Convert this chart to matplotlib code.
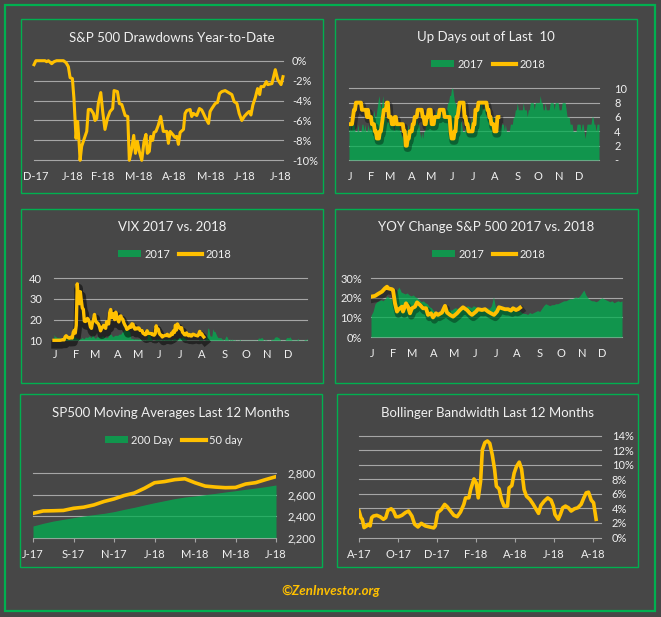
import matplotlib
matplotlib.use('Agg')
import matplotlib.pyplot as plt
import numpy as np
from matplotlib.patches import Rectangle, Patch
from matplotlib.lines import Line2D
import matplotlib.patheffects as pe

# ---------------- DATA ----------------
# Panel 1: S&P 500 drawdown YTD (trading day, %)
dd_day = [0, 1.1, 3.4, 6.3, 7.2, 8.2, 10.1, 11.4, 12.9, 16.8,
          18.3, 19.6, 20.6, 21.9, 22.8, 24.0, 24.9, 25.7, 26.3, 27.2,
          29.1, 30.1, 31.0, 32.4, 33.9, 34.8, 35.8, 36.7, 38.1, 39.2,
          40.5, 41.9, 43.4, 44.9, 45.7, 47.6, 48.7, 50.1, 52.0, 53.5,
          54.4, 55.8, 56.9, 57.9, 59.0, 60.1, 61.5, 62.8, 63.9, 64.7,
          65.8, 66.6, 67.7, 68.5, 69.6, 70.9, 72.3, 73.8, 75.8, 76.7,
          77.7, 79.6, 80.5, 81.5, 82.4, 83.4, 85.3, 86.2, 87.2, 89.1,
          90.0, 91.0, 92.9, 94.4, 95.7, 96.7, 98.0, 99.6, 100.5, 101.5,
          103.4, 104.7, 105.9, 107.2, 109.1, 111.0, 112.9, 114.2, 115.8, 117.1,
          118.6, 120.0, 121.5, 122.8, 123.8, 124.9, 126.3, 127.6, 128.8, 129.5,
          131.1, 132.6, 133.4, 135.8, 137.7, 139.1, 141.0, 142.1]
dd_pct = [-0.4, 0, 0, 0, -0.1, 0, -0.3, -0.1, 0, 0,
          -0.2, -0.6, -1.7, -1.8, -3.8, -7.8, -6.1, -8.1, -10.0, -8.6,
          -7.6, -7.1, -4.9, -4.9, -5.3, -6.0, -5.8, -4.3, -3.2, -5.1,
          -6.9, -5.8, -5.1, -4.8, -3.0, -3.1, -4.3, -4.4, -5.5, -5.6,
          -10.0, -8.8, -7.5, -9.3, -8.1, -9.1, -10.0, -8.1, -7.4, -9.3,
          -9.1, -7.6, -8.0, -7.2, -7.1, -6.5, -5.6, -7.1, -7.1, -8.3,
          -7.1, -7.5, -7.7, -7.6, -8.4, -7.2, -6.9, -5.3, -5.0, -4.9,
          -5.6, -5.3, -5.5, -4.8, -4.95, -5.3, -5.8, -6.3, -5.1, -4.8,
          -4.3, -4.2, -3.3, -3.1, -3.0, -3.2, -3.4, -4.1, -4.3, -5.3,
          -6.0, -5.6, -5.3, -5.1, -5.45, -4.45, -3.7, -2.8, -3.4, -2.6,
          -2.6, -2.1, -2.4, -2.3, -0.9, -1.9, -2.4, -1.6]
dd_ticks = [1, 22, 39, 60, 80, 101, 120, 141]
dd_labels = ['D-17', 'J-18', 'F-18', 'M-18', 'A-18', 'M-18', 'J-18', 'J-18']
dd_yticks = [0, -2, -4, -6, -8, -10]

# Panel 2: Up days out of last 10
up2017 = [5, 5, 4, 5, 5, 5, 4, 4, 4, 5, 4, 4, 4, 5, 5, 4, 5, 4, 4, 5, 4, 5, 5,
          6, 6, 7, 6, 6, 7, 8, 9, 8, 7, 8, 9, 7, 6, 6,
          5, 6, 5, 5, 6, 5, 5, 4, 5, 5, 6, 5, 5, 4,
          4, 3, 4, 4, 3, 4, 4, 5, 4, 4, 5, 4, 4, 5, 5,
          5, 6, 5, 5, 4, 3, 4, 3, 4, 4,
          5, 5, 6, 5, 5, 6, 6, 5, 6, 6, 7, 6, 7, 7, 6, 7, 6,
          6, 7, 6, 7, 7, 8, 8, 9, 9, 10, 10, 9, 8, 8, 7,
          6, 6, 5, 6, 5, 4, 4, 4, 5,
          5, 5, 6, 5, 5, 6, 5, 6, 6, 6, 7, 7, 8, 7, 8, 8, 7, 7, 8, 7,
          6, 6, 7, 6, 6, 5, 6, 6, 5, 5, 4, 4, 4, 5, 4, 5, 5, 5, 4, 5,
          4, 4, 4, 4, 5, 5, 5, 6, 6, 7, 7, 8, 7, 7, 7, 7, 7, 8, 7,
          7, 7, 6, 7, 7, 8, 8, 8, 8, 7, 8, 8, 8, 8, 8, 9, 8, 8,
          7, 7, 8, 7, 7, 7, 7, 8, 8, 8, 8, 7, 8, 8, 8, 8, 7,
          7, 7, 8, 8, 8, 8, 7, 6, 6, 6, 5, 5, 5, 4, 4, 4, 4,
          5, 5, 5, 5, 4, 5, 5, 4, 3, 4, 5, 5, 5, 5, 5, 6, 6, 5, 5, 4, 5, 5, 5]
up2018 = [5, 5, 5, 5, 6, 7, 7, 8, 8, 8, 8, 8, 8,
          7, 7, 7, 7, 7, 6, 7,
          6, 6, 6, 5, 5, 5, 4, 4,
          3, 3, 3, 4, 4, 5, 6, 7, 7, 7,
          8, 8, 6, 6, 6, 5, 5, 5,
          6, 6, 5, 5, 5, 5, 5, 5, 5, 4, 4,
          2, 2, 3, 3, 4, 4, 4, 5, 5,
          6, 6, 6, 7, 7, 7, 7, 7, 6, 6,
          5, 5, 6, 6, 7, 7, 7, 5, 5, 5,
          6, 6, 6, 6, 6, 7, 7, 7, 7, 7,
          6, 6, 6, 6, 6, 6, 4, 3, 3, 3,
          4, 4, 6, 6, 7, 8, 8, 8, 8, 8,
          6, 6, 5, 5, 4, 4, 4, 4, 4, 5, 5,
          7, 7, 7, 8, 8, 8, 8, 8, 8, 8, 8, 8,
          7, 7, 6, 6, 5, 5, 5, 4, 4, 4, 6, 6]
month_ticks = [1, 22, 41, 63, 83, 104, 125, 146, 169, 190, 211, 231]
month_labels = ['J', 'F', 'M', 'A', 'M', 'J', 'J', 'A', 'S', 'O', 'N', 'D']
up_yticks = [0, 2, 4, 6, 8, 10]
up_ylabels = ['-', '2', '4', '6', '8', '10']

# Panel 3: VIX
vix2017 = [12.8, 11.9, 11.7, 11.3, 11.3, 11.5, 11.0, 11.2, 11.1, 11.2, 12.0, 12.3, 11.5, 11.2, 11.3, 10.8, 10.6, 11.1, 11.9, 12.0,
           11.8, 11.4, 11.1, 11.0, 10.9, 10.6, 10.7, 10.9, 11.5, 10.7, 10.9, 11.6, 11.5, 11.4, 11.7, 12.1, 11.5, 11.3, 12.9,
           11.9, 11.2, 11.0, 11.5, 11.9, 11.5, 11.6, 11.4, 11.7, 12.3, 11.6, 11.4, 11.3, 11.3, 11.3, 12.5, 12.8, 13.1, 12.5, 11.7, 12.0, 12.4, 12.4,
           12.4, 12.4, 12.9, 13.0, 12.9, 13.9, 14.1, 15.1, 15.1, 15.9, 14.4, 14.9, 14.6, 14.1, 10.8, 11.0, 10.8, 10.4, 10.8,
           10.6, 10.7, 10.5, 10.7, 10.6, 10.5, 10.6, 10.2, 10.4, 10.2, 10.6, 10.8, 15.6, 14.7, 12.0, 10.9, 10.2, 10.0, 9.8, 10.4, 10.4, 10.8,
           10.4, 10.8, 10.1, 10.3, 10.5, 10.4, 10.2, 10.7, 10.4, 10.4, 10.9, 10.6, 10.4, 10.4, 10.0, 10.9, 11.0, 10.8, 10.0, 11.0, 11.1, 11.2,
           11.2, 11.1, 12.5, 11.1, 11.2, 10.6, 10.3, 9.9, 9.5, 9.9, 9.8, 9.9, 9.5, 9.4, 9.4, 9.4, 9.4, 9.6, 10.3, 10.3,
           10.3, 10.4, 10.2, 10.0, 10.0, 11.1, 11.5, 16.0, 15.5, 12.3, 12.0, 12.1, 15.6, 14.3, 14.3, 13.2, 12.0, 11.3, 11.3, 11.3, 11.3, 10.6, 10.5,
           10.1, 11.0, 12.1, 11.6, 10.5, 10.1, 10.6, 10.2, 10.6, 10.2, 10.2, 10.3, 9.8, 9.7, 9.9, 10.2, 10.5, 9.9, 9.5, 9.5,
           9.5, 9.4, 9.2, 9.6, 9.6, 9.9, 9.9, 9.8, 9.6, 9.9, 9.9, 9.9, 9.9, 10.1, 11.2, 11.0, 11.0, 11.3, 11.2, 10.0, 10.2, 10.3,
           10.2, 10.0, 9.9, 9.8, 10.2, 10.5, 10.5, 10.5, 11.5, 11.6, 11.8, 11.4, 11.3, 10.6, 10.2, 9.7, 9.7, 9.9, 10.0, 10.7, 11.4,
           11.3, 11.2, 11.7, 11.0, 10.2, 10.2, 10.2, 10.2, 10.2, 10.2, 10.9, 10.2, 9.5, 9.5, 9.7, 9.9, 10.2, 10.5, 10.2, 11.0]
vix2018 = [10.0, 10.0, 10.0, 10.0, 10.0, 10.0, 10.0, 10.1, 10.2, 10.3, 10.2, 11.7, 12.2, 11.7, 11.3, 11.0, 11.1, 11.6, 11.1, 13.8, 14.8,
           13.5, 17.3, 37.3, 30.0, 27.7, 33.5, 29.1, 25.6, 25.0, 19.3, 19.1, 19.5, 20.6, 20.0, 18.7, 16.5, 15.8, 18.6, 19.9,
           22.5, 19.6, 18.7, 18.4, 17.8, 16.5, 14.6, 15.8, 16.4, 17.2, 16.6, 15.8, 19.0, 18.2, 17.9, 23.3, 24.9, 21.0, 22.5, 22.9, 20.0,
           23.6, 21.1, 20.1, 18.9, 21.5, 21.8, 20.5, 20.2, 18.5, 17.4, 16.6, 15.3, 15.6, 16.0, 16.9, 16.3, 18.0, 17.8, 16.2, 15.4, 15.9,
           15.5, 16.0, 15.9, 14.8, 14.8, 14.7, 13.4, 13.2, 12.7, 12.9, 14.6, 13.4, 13.4, 13.4, 13.1, 13.2, 12.6, 12.5, 13.2, 17.0, 14.9, 15.4,
           13.5, 12.7, 12.4, 11.6, 12.1, 12.2, 12.4, 12.3, 12.9, 12.1, 12.0, 12.3, 13.4, 12.8, 14.6, 13.8, 17.3, 15.0, 17.9, 16.9, 16.1,
           15.6, 16.1, 13.9, 13.4, 12.7, 12.6, 13.6, 12.6, 12.2, 12.8, 12.1, 12.1, 12.9, 12.9, 12.6, 12.4, 12.3, 12.1, 13.0, 14.3, 12.8,
           13.2, 12.2, 11.6]

# Panel 4: YOY change S&P 500 (%)
yoy2017 = [11.0, 13, 17, 18, 18.5, 19, 18.5, 19.5, 21, 20, 19.5, 20, 20.5, 24, 25.5, 23, 22.5, 22, 22.5, 21.5,
           21, 21.5, 20.5, 20, 19, 18, 18.5, 17.5, 17, 15.5, 15, 13.5, 13, 12.5, 13, 13.5, 14, 13.5, 14, 14.5,
           13.5, 14.5, 15, 14.5, 15, 14.5, 15.5, 15, 16, 15.5, 15, 16, 15.5, 15, 15, 14.5, 15, 14.5, 15, 14.5,
           16, 20.5, 15, 14.5, 14, 14.5, 14, 14, 14.5, 14, 14.5, 14, 13.5, 13, 13.5, 12.5, 12, 12, 11.5, 12.5,
           12, 12.5, 13, 13.5, 13, 14.5, 16, 17, 16.5, 16, 16.5, 16.5, 17, 17, 17.5, 18, 18.5, 18.5, 19, 19.5,
           19.5, 20, 20.5, 20, 21, 22.5, 24, 21.5, 20, 19, 18.5, 18.5, 18, 18.5, 19.5, 20, 19.5, 19, 18.5, 18,
           18.5, 17.5, 18, 18.5, 18, 18.5]
yoy18_day = [0, 4, 7, 11, 14, 16, 17, 21, 22, 24, 26, 27, 31, 32, 35, 37, 39, 41, 44, 46,
             49, 52, 55, 57, 60, 62, 65, 67, 71, 74, 76, 79, 82, 86, 89, 92, 96, 99, 101, 105,
             107, 111, 114, 117, 120, 123, 126, 128, 131, 134, 137, 140, 142, 145, 147, 149]
yoy2018 = [20.6, 21.0, 22.0, 23.2, 24.9, 25.7, 24.9, 24.4, 24.0, 17.2, 13.0, 13.8, 15.5, 13.0, 17.2, 15.5, 12.1, 14.7, 15.5, 17.7,
           16.4, 14.7, 14.7, 11.3, 12.1, 10.0, 12.1, 11.3, 12.5, 15.9, 12.5, 11.3, 10.4, 12.1, 13.8, 15.2, 13.8, 12.1, 11.3, 13.0,
           14.2, 13.8, 14.2, 13.0, 12.1, 11.3, 13.0, 15.2, 14.7, 14.2, 14.2, 13.5, 14.7, 13.8, 14.2, 15.0]
yoy_yticks = [0, 10, 20, 30]

# Panel 5: moving averages (half-month steps, Jul-17 .. Jul-18)
ma200 = [2309, 2334, 2355, 2371, 2387, 2402, 2415, 2427, 2443, 2464, 2483, 2505, 2526,
         2545, 2564, 2579, 2589, 2601, 2613, 2626, 2638, 2651, 2663, 2676, 2691]
ma50 = [2427, 2449, 2451, 2454, 2474, 2484, 2505, 2537, 2561, 2593, 2616, 2660, 2712,
        2723, 2741, 2749, 2712, 2681, 2672, 2666, 2668, 2700, 2713, 2742, 2769]
ma_ticks = [0, 2, 4, 6, 8, 10, 12]
ma_labels = ['J-17', 'S-17', 'N-17', 'J-18', 'M-18', 'M-18', 'J-18']
ma_yticks = [2200, 2400, 2600, 2800]

# Panel 6: Bollinger bandwidth (months since Aug-17, %)
bb_month = [0, 0.10, 0.17, 0.26, 0.39, 0.48, 0.57, 0.65, 0.74, 0.91, 1.08, 1.25, 1.37, 1.48, 1.65, 1.77, 1.89,
            2.03, 2.20, 2.37, 2.54, 2.71, 2.85, 3.02, 3.19, 3.40, 3.61, 3.83, 3.91, 4.03, 4.22, 4.39, 4.52,
            4.69, 4.86, 5.03, 5.20, 5.37, 5.46, 5.63, 5.72, 5.89, 6.01, 6.11, 6.23, 6.32, 6.45, 6.58, 6.70,
            6.83, 6.95, 7.04, 7.18, 7.30, 7.43, 7.61, 7.69, 7.83, 7.95, 8.07, 8.21, 8.33, 8.46, 8.58, 8.76,
            8.93, 9.06, 9.20, 9.32, 9.49, 9.67, 9.84, 9.96, 10.04, 10.21, 10.32, 10.44, 10.58, 10.73, 10.87,
            11.04, 11.21, 11.38, 11.52, 11.64, 11.76, 11.90, 12.02, 12.15]
bb_pct = [3.64, 2.73, 2.5, 1.36, 1.59, 1.82, 1.59, 2.73, 2.95, 3.05, 2.86, 2.5, 2.73, 3.73, 3.95, 3.64, 2.86,
          2.86, 3.05, 3.41, 3.64, 2.95, 1.82, 1.45, 1.95, 1.59, 1.45, 1.32, 1.59, 3.41, 3.86, 4.55, 4.23,
          3.64, 3.05, 2.86, 3.5, 4.55, 5.45, 5.45, 6.59, 8.05, 7.5, 5.45, 7.73, 12.05, 13.05, 13.27, 12.95,
          11.36, 9.32, 7.05, 6.68, 5.23, 4.32, 4.32, 6.82, 7.14, 8.86, 9.77, 10.36, 9.41, 6.59, 5.68, 5.23,
          4.55, 3.95, 3.32, 4.41, 5.0, 5.45, 5.14, 4.32, 3.18, 2.5, 3.18, 4.09, 4.32, 4.09, 3.64,
          3.95, 4.09, 4.55, 5.45, 6.14, 6.23, 5.14, 4.77, 2.5]
bb_ticks = [0, 2, 4, 6, 8, 10, 12]
bb_labels = ['A-17', 'O-17', 'D-17', 'F-18', 'A-18', 'J-18', 'A-18']
bb_yticks = [0, 2, 4, 6, 8, 10, 12, 14]

# ---------------- STYLE ----------------
W, H = 661, 617
BG = '#474747'
EDGE = '#00B050'
FILL = '#00B050'
GOLD = '#FFC000'
GRID = '#A6A6A6'
TXT = '#F0F0F0'
FONT = 'Lato'
plt.rcParams['font.family'] = [FONT, 'DejaVu Sans']

fig = plt.figure(figsize=(W / 100, H / 100), dpi=100, facecolor=BG)


def fx(x):
    return x / W


def fy(y):
    return 1 - y / H


def px_axes(x0, y0, x1, y1):
    ax = fig.add_axes([fx(x0), fy(y1), (x1 - x0) / W, (y1 - y0) / H])
    ax.set_facecolor('none')
    for s in ax.spines.values():
        s.set_visible(False)
    return ax


def panel(x0, y0, x1, y1, title, ty):
    fig.patches.append(Rectangle((fx(x0), fy(y1)), (x1 - x0) / W, (y1 - y0) / H,
                                 transform=fig.transFigure, fill=False,
                                 edgecolor=EDGE, linewidth=1.0))
    fig.text(fx((x0 + x1) / 2), fy(ty), title, ha='center', va='center',
             fontsize=9.5, color=TXT)


def style(ax, yticks, ylabels, yside, ypad, xticks, xlabels, xpad, ticklen=0):
    ax.set_yticks(yticks)
    ax.set_yticklabels(ylabels)
    ax.set_xticks(xticks)
    ax.set_xticklabels(xlabels)
    if yside == 'right':
        ax.yaxis.tick_right()
    ax.tick_params(axis='y', length=0, pad=ypad, labelsize=8, labelcolor=TXT)
    ax.tick_params(axis='x', length=ticklen, width=0.8, color=GRID, pad=xpad,
                   labelsize=8, labelcolor=TXT)
    ax.yaxis.grid(True, color=GRID, linewidth=0.8)
    ax.set_axisbelow(True)
    for gl in ax.get_ygridlines():
        gl.set_clip_on(False)


def legend(ax, cx, cy, labels):
    handles = [Patch(facecolor=FILL, alpha=0.75, edgecolor='none'),
               Line2D([], [], color=GOLD, lw=3)]
    ax.legend(handles, labels, loc='center', bbox_to_anchor=(fx(cx), fy(cy)),
              bbox_transform=fig.transFigure, ncol=2, frameon=False, fontsize=8,
              labelcolor=TXT, handlelength=2.1, handleheight=0.55,
              handletextpad=0.3, columnspacing=0.8, borderpad=0, borderaxespad=0)


def shadow(alpha=0.45, off=-2.5, lw=5):
    return [pe.SimpleLineShadow(offset=(1.0, off), shadow_color='black', alpha=alpha, linewidth=lw),
            pe.Normal()]


pct = lambda v: f'{v:d}%'

# outer border
fig.patches.append(Rectangle((fx(5), fy(611)), 650 / W, 606 / H, transform=fig.transFigure,
                             fill=False, edgecolor=EDGE, linewidth=1.6))

# ---- Panel 1
panel(21, 19, 323, 193, 'S&P 500 Drawdowns Year-to-Date', 38)
ax1 = px_axes(34, 60.7, 283, 160.3)
ax1.plot(dd_day, dd_pct, color=GOLD, lw=2.2, clip_on=False, solid_joinstyle='round')
ax1.set_xlim(0, 142.1)
ax1.set_ylim(-10, 0)
style(ax1, dd_yticks, [pct(v) for v in dd_yticks], 'right', 6.5, dd_ticks, dd_labels, 8)

# ---- Panel 2
panel(335, 19, 637, 193, 'Up Days out of Last  10', 37)
ax2 = px_axes(349, 88.3, 599, 160)
x17 = np.arange(len(up2017))
ax2.fill_between(x17, 0, up2017, color=FILL, alpha=0.75, lw=0, zorder=1)
ax2.plot(np.arange(len(up2018)), up2018, color=GOLD, lw=2.8, zorder=3,
         path_effects=shadow(0.35, -2, 5))
ax2.set_xlim(0, len(up2017) - 1)
ax2.set_ylim(0, 10)
style(ax2, up_yticks, up_ylabels, 'right', 11, month_ticks, month_labels, 8)
legend(ax2, 488, 64, ['2017', '2018'])

# ---- Panel 3
panel(21, 209, 323, 383, 'VIX 2017 vs. 2018', 227)
ax3 = px_axes(54, 278.3, 307, 340.3)
ax3.fill_between(np.arange(len(vix2017)), 10, vix2017, color=FILL, alpha=0.75, lw=0, zorder=1)
ax3.plot(np.arange(len(vix2018)), vix2018, color=GOLD, lw=2.4, zorder=3, clip_on=False,
         path_effects=shadow(0.5, -3, 6))
ax3.set_xlim(0, len(vix2017) - 1)
ax3.set_ylim(10, 40)
style(ax3, [10, 20, 30, 40], ['10', '20', '30', '40'], 'left', 8.6, month_ticks, month_labels, 6.6)
legend(ax3, 174.5, 254, ['2017', '2018'])

# ---- Panel 4
panel(335, 209, 638, 383, 'YOY Change S&P 500 2017 vs. 2018', 227)
ax4 = px_axes(371, 278.3, 622, 337)
ax4.fill_between(np.linspace(0, 251, len(yoy2017)), 0, yoy2017, color=FILL, alpha=0.75, lw=0, zorder=1)
ax4.plot(yoy18_day, yoy2018, color=GOLD, lw=2.8, zorder=3, path_effects=shadow(0.35, -2, 5))
ax4.set_xlim(0, 251)
ax4.set_ylim(0, 30)
style(ax4, yoy_yticks, [pct(v) for v in yoy_yticks], 'left', 6.5, month_ticks, month_labels, 7.6)
legend(ax4, 488.5, 254, ['2017', '2018'])

# ---- Panel 5
panel(20, 394, 322, 567, 'SP500 Moving Averages Last 12 Months', 413)
ax5 = px_axes(33, 473.3, 276, 537.7)
xm = np.linspace(0, 12, len(ma200))
ax5.fill_between(xm, 2200, ma200, color=FILL, alpha=0.75, lw=0, zorder=1)
ax5.plot(np.linspace(0, 12, len(ma50)), ma50, color=GOLD, lw=2.6, zorder=3)
ax5.set_xlim(0, 12)
ax5.set_ylim(2200, 2800)
style(ax5, ma_yticks, [f'{v:,}' for v in ma_yticks], 'right', 8, ma_ticks, ma_labels, 5, ticklen=3)
legend(ax5, 173.5, 440, ['200 Day', '50 day'])

# ---- Panel 6
panel(337, 394, 638, 567, 'Bollinger Bandwidth Last 12 Months', 413)
ax6 = px_axes(359, 435.7, 601, 537.5)
ax6.plot(bb_month, bb_pct, color=GOLD, lw=2.6, zorder=3)
ax6.set_xlim(0, 12.4)
ax6.set_ylim(0, 14)
style(ax6, bb_yticks, [pct(v) for v in bb_yticks], 'right', 7.7, bb_ticks, bb_labels, 5, ticklen=3)

fig.text(fx(331), fy(591), '©ZenInvestor.org', ha='center', va='center', color=GOLD,
         fontsize=9.5, fontweight='bold', fontstyle='italic')

fig.savefig('out.png', dpi=100, facecolor=BG)
